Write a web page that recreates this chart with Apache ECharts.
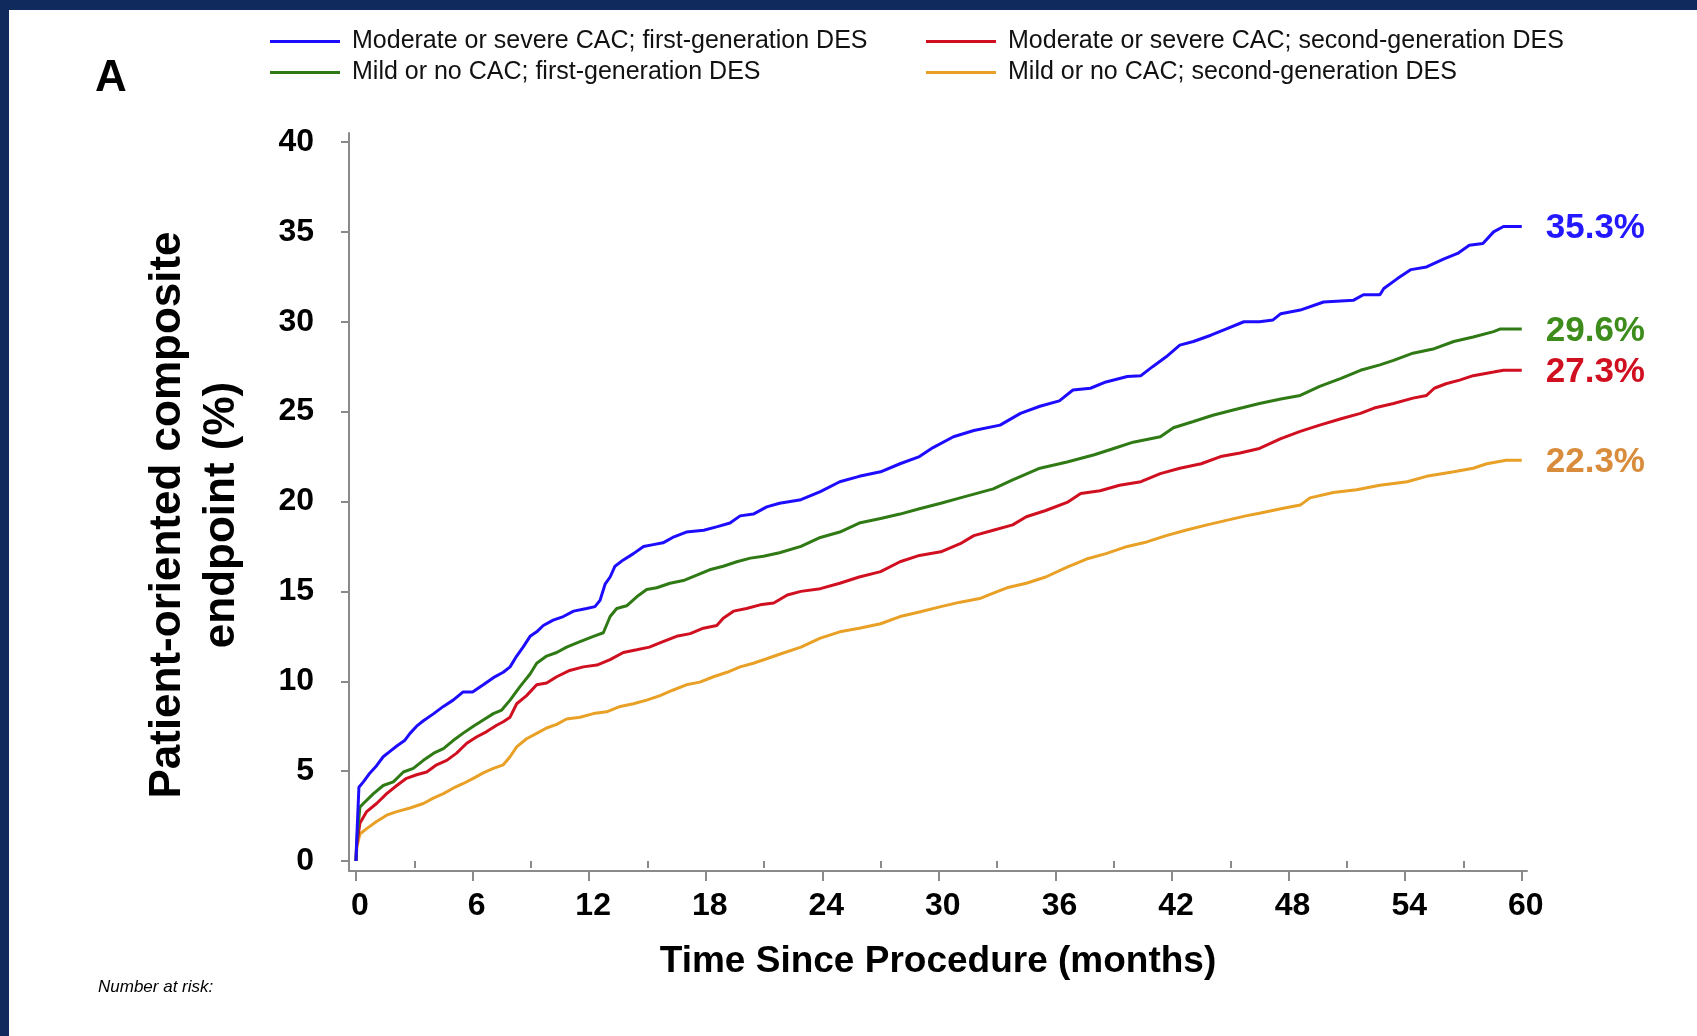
<!DOCTYPE html>
<html>
<head>
<meta charset="utf-8">
<script src="https://cdn.jsdelivr.net/npm/echarts@6/dist/echarts.min.js"></script>
<style>
html,body{margin:0;padding:0;background:#fff;}
#c{width:1697px;height:1036px;}
</style>
</head>
<body>
<div id="c"></div>
<script>
// ---- tick labels ----
const xTicks = [0, 6, 12, 18, 24, 30, 36, 42, 48, 54, 60];
const xMinorTicks = [3, 9, 15, 21, 27, 33, 39, 45, 51, 57];
const yTicks = [0, 5, 10, 15, 20, 25, 30, 35, 40];

// ---- series names ----
const names = [
  'Moderate or severe CAC; first-generation DES',
  'Mild or no CAC; first-generation DES',
  'Moderate or severe CAC; second-generation DES',
  'Mild or no CAC; second-generation DES'
];
const endLabels = ['35.3%', '29.6%', '27.3%', '22.3%'];

// ---- series values: [months, %] ----
const modSevFirst = [[0,0],[0.05,1.5],[0.15,4.1],[0.38,4.4],[0.72,4.9],[1.06,5.3],[1.4,5.8],[1.75,6.1],[2.1,6.4],[2.5,6.7],[2.78,7.1],[3.12,7.5],[3.47,7.8],[4.0,8.2],[4.5,8.6],[5.0,8.95],[5.5,9.4],[6.0,9.4],[6.55,9.8],[7.07,10.2],[7.58,10.5],[7.93,10.8],[8.27,11.4],[8.6,11.9],[8.96,12.5],[9.3,12.75],[9.64,13.1],[10.15,13.4],[10.67,13.6],[11.2,13.9],[11.87,14.05],[12.3,14.15],[12.56,14.5],[12.82,15.4],[13.08,15.8],[13.33,16.4],[13.76,16.75],[14.28,17.1],[14.8,17.5],[15.3,17.6],[15.8,17.7],[16.3,18.0],[17.0,18.3],[17.9,18.4],[18.6,18.6],[19.25,18.8],[19.77,19.2],[20.45,19.3],[21.14,19.7],[21.8,19.9],[22.9,20.1],[23.9,20.55],[24.9,21.1],[25.9,21.4],[27.0,21.65],[28.0,22.1],[29.0,22.5],[29.7,23.0],[30.75,23.6],[31.8,23.95],[33.15,24.25],[34.2,24.9],[35.2,25.3],[36.2,25.6],[36.9,26.2],[37.8,26.3],[38.6,26.65],[39.7,26.95],[40.4,27.0],[41.0,27.5],[41.7,28.05],[42.4,28.7],[43.1,28.9],[44.0,29.25],[44.8,29.6],[45.7,30.0],[46.5,30.0],[47.2,30.1],[47.6,30.45],[48.6,30.65],[49.8,31.1],[51.35,31.2],[51.85,31.5],[52.7,31.5],[52.9,31.85],[53.6,32.4],[54.3,32.9],[55.1,33.05],[56.0,33.5],[56.7,33.8],[57.3,34.25],[58.0,34.35],[58.55,35.0],[59.06,35.3],[60,35.3]];

const mildFirst = [[0,0],[0.03,1.0],[0.2,3.0],[0.38,3.2],[0.9,3.75],[1.4,4.2],[1.92,4.4],[2.44,4.95],[2.95,5.15],[3.47,5.6],[4.0,6.0],[4.5,6.25],[5.0,6.7],[5.5,7.1],[6.04,7.5],[6.55,7.85],[7.07,8.2],[7.5,8.4],[7.93,8.95],[8.44,9.7],[8.96,10.4],[9.3,11.0],[9.81,11.4],[10.33,11.6],[10.84,11.9],[11.53,12.2],[12.22,12.5],[12.73,12.7],[13.08,13.6],[13.42,14.05],[13.93,14.2],[14.45,14.7],[14.96,15.1],[15.48,15.2],[16.16,15.45],[16.85,15.6],[17.54,15.9],[18.2,16.2],[18.9,16.4],[19.6,16.65],[20.3,16.85],[20.97,16.95],[21.8,17.15],[22.9,17.5],[23.9,18.0],[24.9,18.3],[25.9,18.8],[27.0,19.05],[28.0,19.3],[29.0,19.6],[30.1,19.9],[31.1,20.2],[32.8,20.7],[33.8,21.2],[35.2,21.85],[36.6,22.2],[38.0,22.6],[39.0,22.95],[40.0,23.3],[41.4,23.6],[42.07,24.1],[43.1,24.45],[44.1,24.8],[45.2,25.1],[46.5,25.45],[47.6,25.7],[48.6,25.9],[49.6,26.4],[50.7,26.85],[51.7,27.3],[52.7,27.6],[53.4,27.85],[54.4,28.25],[55.5,28.5],[56.5,28.9],[57.5,29.15],[58.55,29.45],[58.9,29.6],[60,29.6]];

const modSevSecond = [[0,0],[0.03,0.8],[0.2,2.1],[0.55,2.75],[1.06,3.2],[1.58,3.75],[2.1,4.2],[2.6,4.6],[3.12,4.8],[3.64,4.95],[4.15,5.35],[4.67,5.6],[5.18,6.0],[5.7,6.55],[6.2,6.9],[6.73,7.2],[7.24,7.55],[7.58,7.75],[7.93,8.0],[8.27,8.75],[8.78,9.2],[9.3,9.8],[9.81,9.9],[10.33,10.25],[11.0,10.6],[11.7,10.8],[12.4,10.9],[13.08,11.2],[13.76,11.6],[14.45,11.75],[15.1,11.9],[15.8,12.2],[16.5,12.5],[17.2,12.65],[17.88,12.95],[18.57,13.1],[18.9,13.5],[19.43,13.9],[20.1,14.05],[20.8,14.25],[21.5,14.35],[22.2,14.8],[22.9,15.0],[23.9,15.15],[24.9,15.45],[25.9,15.8],[27.0,16.1],[28.0,16.65],[29.0,17.0],[30.1,17.2],[31.1,17.65],[31.8,18.1],[32.8,18.4],[33.8,18.7],[34.5,19.15],[35.5,19.5],[36.6,19.95],[37.3,20.45],[38.3,20.6],[39.3,20.9],[40.4,21.1],[41.4,21.55],[42.4,21.85],[43.5,22.1],[44.5,22.5],[45.5,22.7],[46.5,22.95],[47.6,23.5],[48.6,23.9],[49.6,24.25],[50.7,24.6],[51.7,24.9],[52.4,25.2],[53.4,25.45],[54.4,25.75],[55.1,25.9],[55.5,26.3],[56.1,26.55],[56.8,26.75],[57.5,27.0],[58.55,27.2],[59.06,27.3],[60,27.3]];

const mildSecond = [[0,0],[0.05,0.8],[0.2,1.5],[0.55,1.8],[1.06,2.2],[1.58,2.55],[2.1,2.75],[2.78,2.95],[3.47,3.2],[3.98,3.5],[4.5,3.75],[5.0,4.05],[5.5,4.3],[6.04,4.6],[6.55,4.9],[7.07,5.15],[7.58,5.35],[7.93,5.8],[8.27,6.35],[8.78,6.8],[9.3,7.1],[9.81,7.4],[10.33,7.6],[10.84,7.9],[11.53,8.0],[12.22,8.2],[12.9,8.3],[13.6,8.6],[14.28,8.75],[14.96,8.95],[15.65,9.2],[16.3,9.5],[17.0,9.8],[17.7,9.95],[18.4,10.25],[19.1,10.5],[19.77,10.8],[20.45,11.0],[21.14,11.25],[21.8,11.5],[22.9,11.9],[23.9,12.4],[24.9,12.75],[25.9,12.95],[27.0,13.2],[28.0,13.6],[29.0,13.85],[30.1,14.15],[31.1,14.4],[32.1,14.6],[32.8,14.9],[33.5,15.2],[34.5,15.45],[35.5,15.8],[36.6,16.35],[37.6,16.8],[38.6,17.1],[39.7,17.5],[40.7,17.75],[41.7,18.1],[42.7,18.4],[43.8,18.7],[44.8,18.95],[45.8,19.2],[46.5,19.35],[47.6,19.6],[48.6,19.8],[49.1,20.2],[50.3,20.5],[51.5,20.65],[52.7,20.9],[54.1,21.1],[55.1,21.4],[56.5,21.65],[57.5,21.85],[58.2,22.1],[59.2,22.3],[60,22.3]];

const seriesData = [modSevFirst, mildFirst, modSevSecond, mildSecond];
const lineColors = ['#1e0cff', '#2f7a14', '#d01020', '#e9a026'];
const labelColors = ['#2318ff', '#3d8c1c', '#d01020', '#d88c3c'];

const FONT = 'Liberation Sans, Arial, sans-serif';
const axisGray = '#8a8a8a';

const chart = echarts.init(document.getElementById('c'), null, {renderer: 'canvas'});

const series = seriesData.map((d, i) => ({
  name: names[i],
  type: 'line',
  xAxisIndex: 0,
  yAxisIndex: 0,
  data: d,
  showSymbol: false,
  symbol: 'none',
  lineStyle: {width: 3, color: lineColors[i]},
  itemStyle: {color: lineColors[i]},
  animation: false,
  z: 10 - i,
  endLabel: {
    show: true,
    formatter: () => endLabels[i],
    distance: 24,
    offset: [0, 2],
    color: labelColors[i],
    fontSize: 35,
    fontWeight: 'bold',
    fontFamily: FONT
  }
}));

const legendCommon = {
  orient: 'vertical',
  icon: 'rect',
  itemWidth: 70,
  itemHeight: 3,
  itemGap: 6,
  selectedMode: false,
  textStyle: {fontSize: 25, fontFamily: FONT, color: '#111', padding: [0, 0, 0, 7]}
};

chart.setOption({
  backgroundColor: '#ffffff',
  animation: false,
  grid: {left: 349, right: 170, top: 133, bottom: 165, containLabel: false},
  legend: [
    Object.assign({left: 265, top: 24, data: [names[0], names[1]]}, legendCommon),
    Object.assign({left: 921, top: 24, data: [names[2], names[3]]}, legendCommon)
  ],
  xAxis: [{
    type: 'value',
    min: -0.36,
    max: 60.27,
    position: 'bottom',
    name: 'Time Since Procedure (months)',
    nameLocation: 'middle',
    nameGap: 72,
    nameTextStyle: {fontSize: 37, fontWeight: 'bold', fontFamily: FONT, color: '#000'},
    axisLine: {show: true, onZero: false, lineStyle: {color: axisGray, width: 2}},
    axisTick: {show: true, customValues: xTicks, length: 10, lineStyle: {color: axisGray, width: 2}},
    axisLabel: {show: true, customValues: xTicks, margin: 19, fontSize: 32, fontWeight: 'bold', fontFamily: FONT, color: '#000', padding: [0, 0, 0, 8]},
    splitLine: {show: false}
  }, {
    type: 'value',
    min: -0.36,
    max: 60.27,
    position: 'bottom',
    axisLine: {show: false},
    axisTick: {show: true, customValues: xMinorTicks, length: 7, lineStyle: {color: axisGray, width: 2}},
    axisLabel: {show: false},
    splitLine: {show: false}
  }],
  yAxis: {
    type: 'value',
    min: -0.556,
    max: 40.5,
    axisLine: {show: true, onZero: false, lineStyle: {color: axisGray, width: 2}},
    axisTick: {show: true, customValues: yTicks, length: 8, lineStyle: {color: axisGray, width: 2}},
    axisLabel: {show: true, customValues: yTicks, margin: 35, fontSize: 32, fontWeight: 'bold', fontFamily: FONT, color: '#000', padding: [4, 0, 0, 0]},
    splitLine: {show: false}
  },
  graphic: [
    {type: 'rect', left: 0, top: 0, shape: {width: 1697, height: 10}, style: {fill: '#102a5e'}, z: 100},
    {type: 'rect', left: 0, top: 0, shape: {width: 9, height: 1036}, style: {fill: '#102a5e'}, z: 100},
    {type: 'text', x: 111, y: 79, style: {text: 'A', font: 'bold 44px ' + FONT, fill: '#000', textAlign: 'center', textVerticalAlign: 'middle'}},
    {type: 'text', x: 195, y: 515, rotation: Math.PI / 2,
      style: {text: 'Patient-oriented composite\nendpoint (%)', font: 'bold 44px ' + FONT, lineHeight: 54, fill: '#000', textAlign: 'center', textVerticalAlign: 'middle'}},
    {type: 'text', x: 98, y: 987, style: {text: 'Number at risk:', font: 'italic 17px ' + FONT, fill: '#000', textAlign: 'left', textVerticalAlign: 'middle'}}
  ],
  series: series
});
</script>
</body>
</html>
